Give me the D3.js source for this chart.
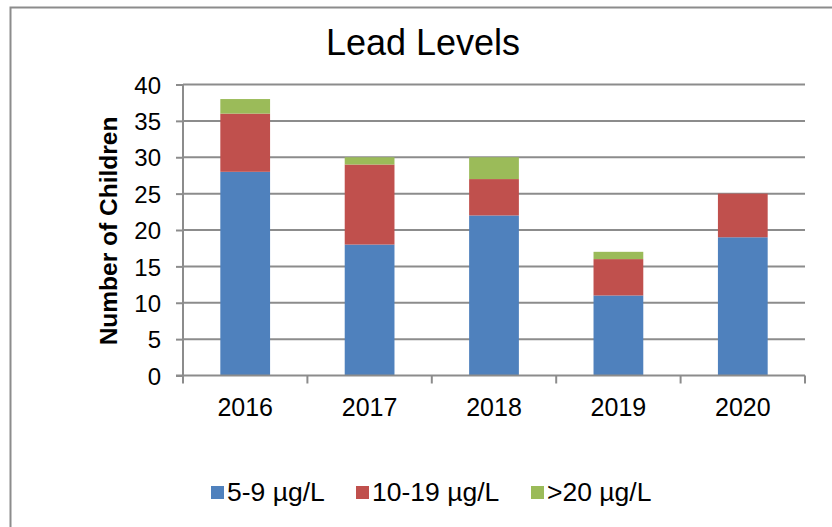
<!DOCTYPE html>
<html>
<head>
<meta charset="utf-8">
<script src="https://cdn.jsdelivr.net/npm/d3@7"></script>
<style>
  body { margin: 0; background: #fff; }
  text { font-family: "Liberation Sans", Arial, sans-serif; fill: #000; }
</style>
</head>
<body>
<div id="chart"></div>
<script>
// Data
var years  = ["2016", "2017", "2018", "2019", "2020"];
var series = ["5-9 µg/L", "10-19 µg/L", ">20 µg/L"];
var low    = [28, 18, 22, 11, 19];
var mid    = [8, 11, 5, 5, 6];
var high   = [2, 1, 3, 1, 0];
var yTicks = [0, 5, 10, 15, 20, 25, 30, 35, 40];
var colors = ["#4f81bd", "#c0504d", "#9bbb59"];

var width  = 832,
    height = 527;

var svg = d3.select("#chart")
    .append("svg")
    .attr("width", width)
    .attr("height", height);

// outer frame (only top and left edges are inside the picture)
svg.append("path")
    .attr("d", "M10.5,527 V7.5 H832")
    .attr("fill", "none")
    .attr("stroke", "#8c8c8c")
    .attr("stroke-width", 2);

var plotLeft = 183, plotRight = 805, plotTop = 84.5, plotBottom = 375.5;

var x = d3.scaleBand()
    .domain(years)
    .range([plotLeft, plotRight])
    .paddingInner(0.6)
    .paddingOuter(0.3);

var y = d3.scaleLinear()
    .domain([0, 40])
    .range([plotBottom, plotTop]);

// gridlines
svg.append("g")
  .selectAll("line")
  .data(yTicks.filter(function(d) { return d > 0; }))
  .enter().append("line")
    .attr("x1", plotLeft).attr("x2", plotRight)
    .attr("y1", function(d) { return y(d); })
    .attr("y2", function(d) { return y(d); })
    .attr("stroke", "#8c8c8c")
    .attr("stroke-width", 2);

// stacked bars
var table = years.map(function(yr, i) {
  return { year: yr, a: low[i], b: mid[i], c: high[i] };
});
var stack = d3.stack().keys(["a", "b", "c"])(table);

svg.append("g")
  .selectAll("g")
  .data(stack)
  .enter().append("g")
    .attr("fill", function(d, i) { return colors[i]; })
  .selectAll("rect")
  .data(function(d) { return d; })
  .enter().append("rect")
    .attr("x", function(d) { return x(d.data.year); })
    .attr("width", x.bandwidth())
    .attr("y", function(d) { return y(d[1]); })
    .attr("height", function(d) { return y(d[0]) - y(d[1]); });

// y axis
var yAxis = svg.append("g")
    .attr("transform", "translate(" + plotLeft + ",0)")
    .call(d3.axisLeft(y).tickValues(yTicks).tickSize(7).tickPadding(15));
yAxis.select(".domain").attr("stroke", "#8c8c8c").attr("stroke-width", 2)
    .attr("d", "M0," + plotTop + "V" + plotBottom);
yAxis.selectAll(".tick line").attr("stroke", "#8c8c8c").attr("stroke-width", 2);
yAxis.selectAll("text")
    .style("font-family", "'Liberation Sans', Arial, sans-serif")
    .style("font-size", "24px")
    .attr("fill", "#000")
    .attr("dy", "0.36em");

// x axis: line plus ticks on category boundaries
var step = x.step();
var bounds = d3.range(years.length + 1).map(function(i) { return plotLeft + i * step; });
svg.append("line")
    .attr("x1", plotLeft - 7).attr("x2", plotRight)
    .attr("y1", plotBottom).attr("y2", plotBottom)
    .attr("stroke", "#8c8c8c").attr("stroke-width", 2);
svg.append("g").selectAll("line")
  .data(bounds)
  .enter().append("line")
    .attr("x1", function(d) { return d; }).attr("x2", function(d) { return d; })
    .attr("y1", plotBottom).attr("y2", plotBottom + 8)
    .attr("stroke", "#8c8c8c").attr("stroke-width", 2);

svg.append("g").selectAll("text")
  .data(years)
  .enter().append("text")
    .attr("x", function(d) { return x(d) + x.bandwidth() / 2; })
    .attr("y", 416)
    .attr("text-anchor", "middle")
    .style("font-size", "25px")
    .text(function(d) { return d; });

// title
svg.append("text")
    .attr("x", 423).attr("y", 55)
    .attr("text-anchor", "middle")
    .style("font-size", "36px")
    .text("Lead Levels");

// y axis title
svg.append("text")
    .attr("transform", "translate(117,231) rotate(-90)")
    .attr("text-anchor", "middle")
    .style("font-size", "24.5px")
    .style("font-weight", "bold")
    .text("Number of Children");

// legend
var legendX = [211, 356, 531];
var legend = svg.append("g").selectAll("g")
  .data(series)
  .enter().append("g")
    .attr("transform", function(d, i) { return "translate(" + legendX[i] + ",486)"; });
legend.append("rect")
    .attr("width", 13).attr("height", 13)
    .attr("fill", function(d, i) { return colors[i]; });
legend.append("text")
    .attr("x", 16).attr("y", 15)
    .style("font-size", "26.5px")
    .text(function(d) { return d; });
</script>
</body>
</html>
